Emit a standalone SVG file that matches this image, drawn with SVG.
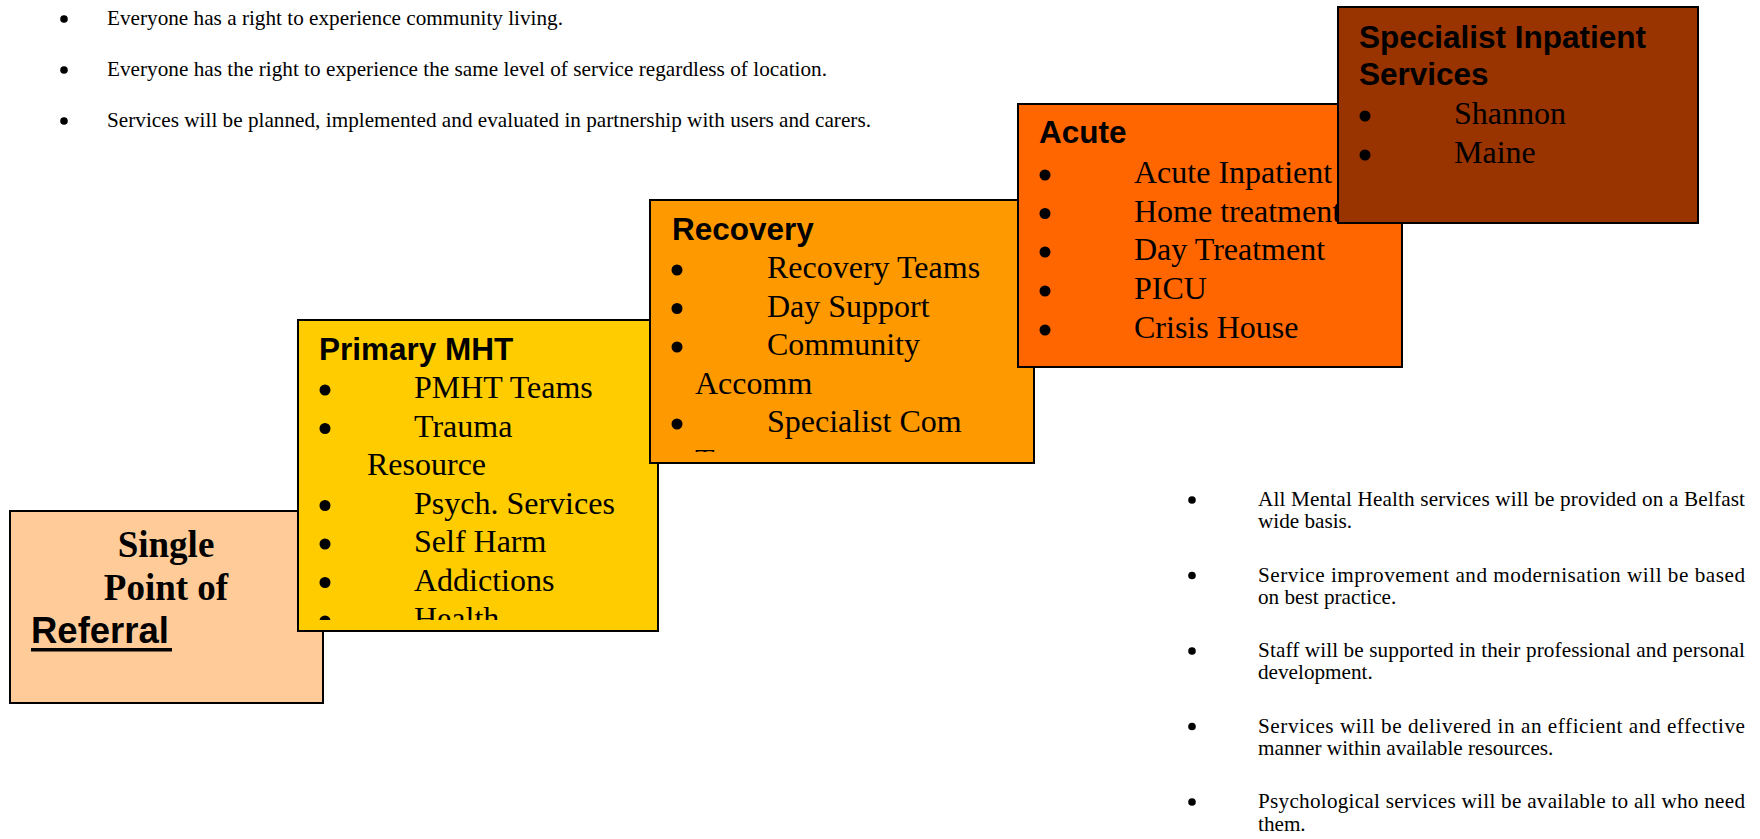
<svg xmlns="http://www.w3.org/2000/svg" width="1760" height="839" viewBox="0 0 1760 839">
<style>
  .box { stroke: #000; stroke-width: 2; }
  .ttl { font-family: "Liberation Sans", Arial, sans-serif; font-weight: bold; font-size: 31.5px; fill: #000; }
  .itm { font-family: "Liberation Serif", "Times New Roman", serif; font-size: 32px; fill: #000; }
  .big { font-family: "Liberation Serif", "Times New Roman", serif; font-weight: bold; font-size: 37px; fill: #000; }
  .ref { font-family: "Liberation Sans", Arial, sans-serif; font-weight: bold; font-size: 36.5px; fill: #000; }
  .txt { font-family: "Liberation Serif", "Times New Roman", serif; font-size: 21.2px; fill: #000; }
  .b { fill: #000; }
</style>
<defs>
  <clipPath id="clipPrimary"><rect x="298" y="320" width="360" height="300"/></clipPath>
  <clipPath id="clipRecovery"><rect x="650" y="200" width="384" height="252"/></clipPath>
</defs>
<rect width="1760" height="839" fill="#fff"/>

<g id="principles-top">
  <circle class="b" cx="64" cy="19" r="3.8"/>
  <text class="txt" x="107" y="25" textLength="456" lengthAdjust="spacing">Everyone has a right to experience community living.</text>
  <circle class="b" cx="64" cy="70" r="3.8"/>
  <text class="txt" x="107" y="76" textLength="720" lengthAdjust="spacing">Everyone has the right to experience the same level of service regardless of location.</text>
  <circle class="b" cx="64" cy="121" r="3.8"/>
  <text class="txt" x="107" y="127" textLength="764" lengthAdjust="spacing">Services will be planned, implemented and evaluated in partnership with users and carers.</text>
</g>

<g id="node-single">
  <rect class="box" x="10" y="511" width="313" height="192" fill="#FFCC99"/>
  <text class="big" x="166" y="557" text-anchor="middle">Single</text>
  <text class="big" x="166" y="600" text-anchor="middle">Point of</text>
  <text class="ref" x="31" y="643">Referral</text>
  <rect x="31" y="648" width="141" height="3.5" fill="#000"/>
</g>

<g id="node-primary">
  <rect class="box" x="298" y="320" width="360" height="311" fill="#FFCC00"/>
  <text class="ttl" x="319" y="360">Primary MHT</text>
  <g clip-path="url(#clipPrimary)">
    <circle class="b" cx="325" cy="390" r="5.5"/><text class="itm" x="414" y="398">PMHT Teams</text>
    <circle class="b" cx="325" cy="428.5" r="5.5"/><text class="itm" x="414" y="436.5">Trauma</text>
    <text class="itm" x="367" y="475">Resource</text>
    <circle class="b" cx="325" cy="505.5" r="5.5"/><text class="itm" x="414" y="513.5">Psych. Services</text>
    <circle class="b" cx="325" cy="544" r="5.5"/><text class="itm" x="414" y="552">Self Harm</text>
    <circle class="b" cx="325" cy="582.5" r="5.5"/><text class="itm" x="414" y="590.5">Addictions</text>
    <circle class="b" cx="325" cy="621" r="5.5"/><text class="itm" x="414" y="629">Health</text>
  </g>
</g>

<g id="node-recovery">
  <rect class="box" x="650" y="200" width="384" height="263" fill="#FF9900"/>
  <text class="ttl" x="672" y="240">Recovery</text>
  <g clip-path="url(#clipRecovery)">
    <circle class="b" cx="677" cy="270" r="5.5"/><text class="itm" x="767" y="278">Recovery Teams</text>
    <circle class="b" cx="677" cy="308.5" r="5.5"/><text class="itm" x="767" y="316.5">Day Support</text>
    <circle class="b" cx="677" cy="347" r="5.5"/><text class="itm" x="767" y="355">Community</text>
    <text class="itm" x="695" y="393.5">Accomm</text>
    <circle class="b" cx="677" cy="424" r="5.5"/><text class="itm" x="767" y="432">Specialist Com</text>
    <text class="itm" x="695" y="470.5">Teams</text>
  </g>
</g>

<g id="node-acute">
  <rect class="box" x="1018" y="104" width="384" height="263" fill="#FF6600"/>
  <text class="ttl" x="1039" y="143">Acute</text>
  <circle class="b" cx="1045" cy="175" r="5.5"/><text class="itm" x="1134" y="183">Acute Inpatient</text>
  <circle class="b" cx="1045" cy="213.5" r="5.5"/><text class="itm" x="1134" y="221.5">Home treatment</text>
  <circle class="b" cx="1045" cy="252" r="5.5"/><text class="itm" x="1134" y="260">Day Treatment</text>
  <circle class="b" cx="1045" cy="291" r="5.5"/><text class="itm" x="1134" y="299">PICU</text>
  <circle class="b" cx="1045" cy="330" r="5.5"/><text class="itm" x="1134" y="338">Crisis House</text>
</g>

<g id="node-specialist">
  <rect class="box" x="1338" y="7" width="360" height="216" fill="#993300"/>
  <text class="ttl" x="1359" y="48">Specialist Inpatient</text>
  <text class="ttl" x="1359" y="84.5">Services</text>
  <circle class="b" cx="1365" cy="116" r="5.5"/><text class="itm" x="1454" y="124">Shannon</text>
  <circle class="b" cx="1365" cy="155" r="5.5"/><text class="itm" x="1454" y="163">Maine</text>
</g>

<g id="connectors"/>

<g id="principles-right">
  <circle class="b" cx="1192" cy="500" r="3.8"/>
  <text class="txt" x="1258" y="506" textLength="487" lengthAdjust="spacing">All Mental Health services will be provided on a Belfast</text>
  <text class="txt" x="1258" y="528">wide basis.</text>
  <circle class="b" cx="1192" cy="575.5" r="3.8"/>
  <text class="txt" x="1258" y="581.5" textLength="487" lengthAdjust="spacing">Service improvement and modernisation will be based</text>
  <text class="txt" x="1258" y="603.5">on best practice.</text>
  <circle class="b" cx="1192" cy="651" r="3.8"/>
  <text class="txt" x="1258" y="657" textLength="487" lengthAdjust="spacing">Staff will be supported in their professional and personal</text>
  <text class="txt" x="1258" y="679">development.</text>
  <circle class="b" cx="1192" cy="726.5" r="3.8"/>
  <text class="txt" x="1258" y="732.5" textLength="487" lengthAdjust="spacing">Services will be delivered in an efficient and effective</text>
  <text class="txt" x="1258" y="754.5">manner within available resources.</text>
  <circle class="b" cx="1192" cy="802" r="3.8"/>
  <text class="txt" x="1258" y="808" textLength="487" lengthAdjust="spacing">Psychological services will be available to all who need</text>
  <text class="txt" x="1258" y="831">them.</text>
</g>
</svg>
